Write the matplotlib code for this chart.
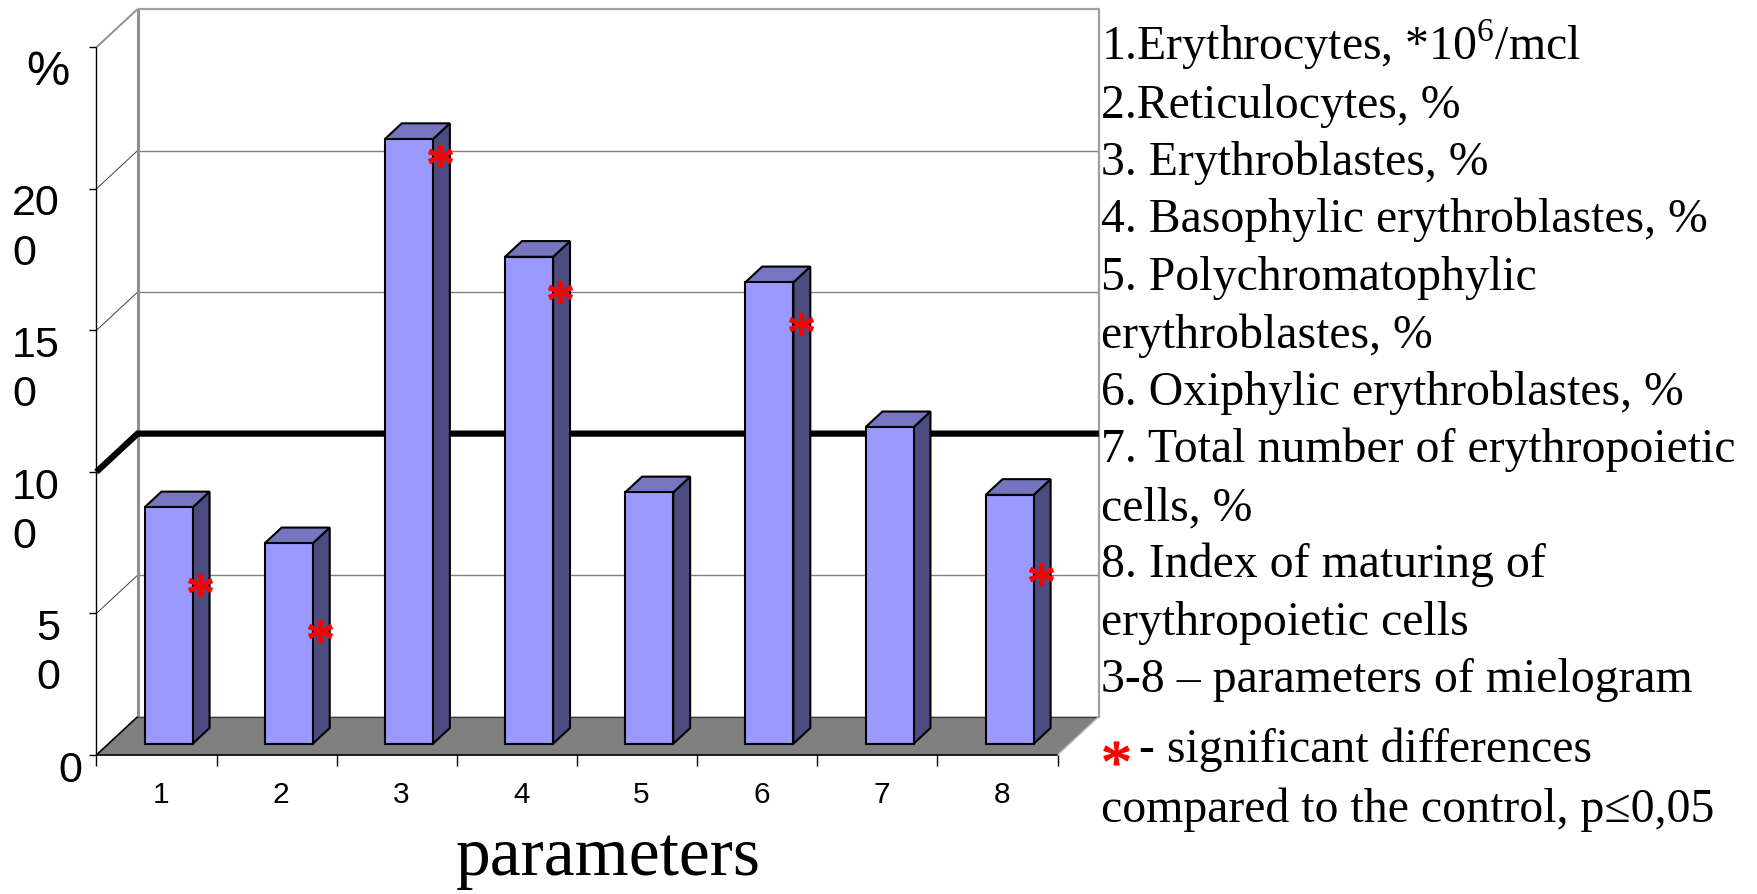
import matplotlib
matplotlib.use("Agg")
import matplotlib.pyplot as plt
import numpy as np
from matplotlib.font_manager import FontProperties
from matplotlib.patches import Polygon
from matplotlib.path import Path
from matplotlib.textpath import TextPath
from matplotlib.transforms import offset_copy

plt.rcParams["mathtext.fontset"] = "custom"
plt.rcParams["mathtext.rm"] = "Liberation Serif"

# data
CATEGORIES = ["1", "2", "3", "4", "5", "6", "7", "8"]
VALUES = [83.5, 70.8, 213.6, 172.0, 88.8, 163.0, 111.8, 87.9]
STAR_CATS = [1, 2, 3, 4, 6, 8]
STAR_LEVELS = [56.2, 39.9, 207.7, 159.4, 148.3, 59.9]
CONTROL = 100
Y_TICKS = [0, 50, 100, 150, 200, 250]
Y_TICK_LABELS = ["0", "5\n0", "10\n0", "15\n0", "20\n0", ""]
GRID_LEVELS = [50, 150, 200]
LEGEND_LINES = [
    r"1.Erythrocytes, *10$^{\mathregular{6}}$/mcl",
    "2.Reticulocytes, %",
    "3. Erythroblastes, %",
    "4. Basophylic erythroblastes, %",
    "5. Polychromatophylic",
    "erythroblastes, %",
    "6. Oxiphylic erythroblastes, %",
    "7. Total number of erythropoietic",
    "cells, %",
    "8. Index of maturing of",
    "erythropoietic cells",
    "3-8 \u2013 parameters of mielogram",
]
NOTE_LINES = ["- significant differences", "compared to the control, p\u22640,05"]

W, H = 1757, 895
FRONT = "#9999FF"
TOP = "#7676C0"
SIDE = "#4C4C80"
FLOOR = "#808080"

# 3d look: depth offset of the back plane in data units
DX, DY = 0.343, 13.53
Z0, Z1 = 0.295, 0.705
HALF = 0.2
YMAX = 250
LABEL_STEP = 48.3  # px between wrapped label lines


def proj(x, y, z):
    return x + z * DX, y + z * DY


def star_path():
    tp = TextPath((0, 0), "*", size=10, prop=FontProperties(family="Liberation Serif"))
    verts = tp.vertices.copy()
    codes = tp.codes
    ext = tp.get_extents()
    verts -= [ext.x0 + ext.width / 2, ext.y0 + ext.height / 2]
    idx = np.where(codes == Path.CLOSEPOLY)[0]
    verts[idx] = verts[idx - 1]
    return Path(verts, codes)


fig = plt.figure(figsize=(W / 100, H / 100), dpi=100)
ax = fig.add_axes([96.4 / W, (H - 756) / H, 961.2 / W, 707.7 / H])
n = len(VALUES)
ax.set_xlim(0, n)
ax.set_ylim(0, YMAX)
ax.axis("off")
px_x = n / 961.2
px_y = YMAX / 707.7


def line(pts, **kw):
    xs, ys = zip(*pts)
    ax.plot(xs, ys, clip_on=False, solid_capstyle="butt", **kw)


# walls
for v in GRID_LEVELS:
    line([proj(0, v, 1), proj(n, v, 1)], color="#808080", lw=1.0, zorder=1)
    line([proj(0, v, 0), proj(0, v, 1)], color="#404040", lw=0.7, zorder=1)
line([proj(0, 0, 1), proj(0, YMAX, 1)], color="#909090", lw=2.2, zorder=1)
line([proj(0, YMAX, 1), proj(n, YMAX, 1), proj(n, 0, 1)], color="#a0a0a0", lw=1.6, zorder=1)
line([proj(0, YMAX, 0), proj(0, YMAX, 1)], color="#909090", lw=1.4, zorder=1)

# control level line
line([proj(0, CONTROL, 0), proj(0, CONTROL, 1), proj(n, CONTROL, 1)],
     color="black", lw=4.5, zorder=2, solid_joinstyle="miter")

# floor
floor = Polygon([proj(0, 0, 0), proj(n, 0, 0), proj(n, 0, 1), proj(0, 0, 1)],
                closed=True, facecolor=FLOOR, edgecolor="none", clip_on=False, zorder=2)
ax.add_patch(floor)
line([proj(0, 0, 1), proj(n, 0, 1)], color="#404040", lw=1.0, zorder=2)
line([proj(n, 0, 0), proj(n, 0, 1)], color="#c0c0c0", lw=1.0, zorder=2)
line([proj(0, 0, 1), proj(0, 0, 0), proj(n, 0, 0)], color="black", lw=1.2, zorder=3)

# value axis and ticks
line([(0, 0), (0, YMAX)], color="black", lw=1.0, zorder=3)
for v in Y_TICKS:
    line([(-7.6 * px_x, v), (0, v)], color="black", lw=1.0, zorder=3)
for i in range(n + 1):
    line([(i, 0), (i, -10.7 * px_y)], color="black", lw=1.0, zorder=3)

for v, lab in zip(Y_TICKS, Y_TICK_LABELS):
    if not lab:
        continue
    nl = lab.count("\n")
    dx = -36.5 if nl else -14.4
    # baseline alignment uses the last line, so shift down by the extra lines
    tr = offset_copy(ax.transData, fig=fig, x=dx, y=-26.5 - nl * LABEL_STEP, units="dots")
    ax.text(0, v, lab, transform=tr, ha="right", va="baseline", multialignment="left",
            fontsize=31, family="Liberation Sans", linespacing=1.297)

for i, lab in enumerate(CATEGORIES):
    tr = offset_copy(ax.transData, fig=fig, x=4.5, y=-47, units="dots")
    ax.text(i + 0.5, 0, lab, transform=tr, ha="center", va="baseline",
            fontsize=21.5, family="Liberation Sans")

# bars
for i, v in enumerate(VALUES):
    c = i + 0.5
    l, r = c - HALF, c + HALF
    side = [proj(r, 0, Z0), proj(r, 0, Z1), proj(r, v, Z1), proj(r, v, Z0)]
    top = [proj(l, v, Z0), proj(r, v, Z0), proj(r, v, Z1), proj(l, v, Z1)]
    front = [proj(l, 0, Z0), proj(r, 0, Z0), proj(r, v, Z0), proj(l, v, Z0)]
    for pts, col in ((side, SIDE), (top, TOP), (front, FRONT)):
        ax.add_patch(Polygon(pts, closed=True, facecolor=col, edgecolor="black",
                             lw=1.5, joinstyle="miter", clip_on=False, zorder=4))

# significance marks
star = star_path()
sx = [proj(k - 0.5 + HALF + 0.06, s, Z0)[0] for k, s in zip(STAR_CATS, STAR_LEVELS)]
sy = [proj(0, s, Z0)[1] for s in STAR_LEVELS]
ax.plot(sx, sy, ls="none", marker=star, markersize=17, color="red", mec="red",
        clip_on=False, zorder=6)

# titles and legend text
fig.text(47.8 / W, 1 - 85 / H, "%", ha="center", va="baseline", fontsize=35,
         family="Liberation Sans")
fig.text(608 / W, 1 - 875 / H, "parameters", ha="center", va="baseline", fontsize=50,
         family="Liberation Serif")

for i, txt in enumerate(LEGEND_LINES):
    fig.text(1101 / W, 1 - (60 + i * 57.5) / H, txt, ha="left", va="baseline",
             fontsize=34.4, family="Liberation Serif")
fig.text(1139 / W, 1 - 761.7 / H, NOTE_LINES[0], ha="left", va="baseline",
         fontsize=34.4, family="Liberation Serif")
fig.text(1101 / W, 1 - 821.7 / H, NOTE_LINES[1], ha="left", va="baseline",
         fontsize=34.4, family="Liberation Serif")
ax.plot([1115.5 / W], [1 - 753.5 / H], ls="none", marker=star, markersize=18,
        color="red", mec="red", transform=fig.transFigure, clip_on=False)

fig.savefig("out.png", dpi=100)
